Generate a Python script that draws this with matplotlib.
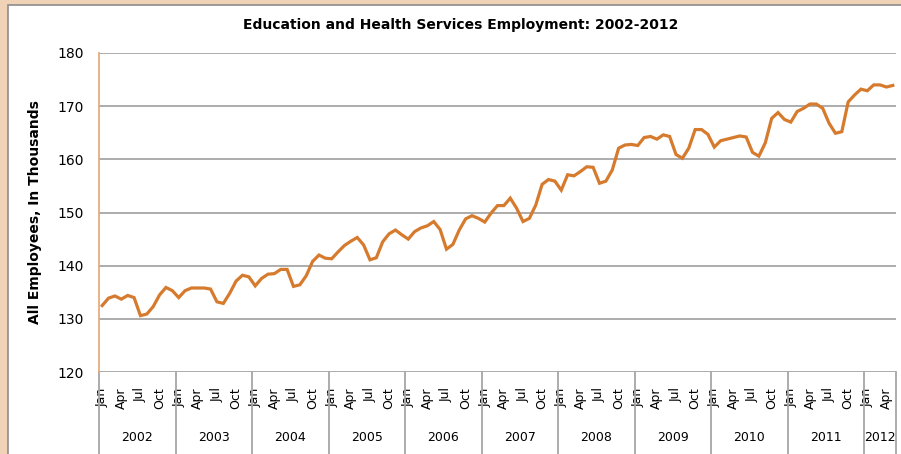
import numpy as np
import matplotlib
matplotlib.use("Agg")
import matplotlib.pyplot as plt
from matplotlib.patches import Rectangle
from matplotlib.transforms import blended_transform_factory

# Monthly employment (thousands), Jan 2002 - May 2012
emp_2002 = [132.5, 133.9, 134.3, 133.7, 134.4, 134.0, 130.6, 130.9, 132.3, 134.5, 135.9, 135.3]
emp_2003 = [134.0, 135.3, 135.8, 135.8, 135.8, 135.6, 133.2, 132.9, 134.8, 137.1, 138.2, 137.9]
emp_2004 = [136.2, 137.6, 138.4, 138.5, 139.3, 139.3, 136.1, 136.4, 138.1, 140.8, 142.0, 141.4]
emp_2005 = [141.3, 142.6, 143.8, 144.6, 145.3, 143.9, 141.1, 141.5, 144.5, 146.0, 146.7, 145.8]
emp_2006 = [145.0, 146.4, 147.1, 147.5, 148.3, 146.8, 143.1, 144.0, 146.7, 148.8, 149.4, 148.9]
emp_2007 = [148.2, 149.9, 151.3, 151.3, 152.7, 150.8, 148.3, 148.9, 151.4, 155.3, 156.2, 155.9]
emp_2008 = [154.2, 157.1, 156.9, 157.7, 158.6, 158.5, 155.5, 155.9, 158.0, 162.1, 162.7, 162.8]
emp_2009 = [162.6, 164.1, 164.3, 163.8, 164.6, 164.3, 160.9, 160.2, 162.1, 165.6, 165.6, 164.7]
emp_2010 = [162.3, 163.5, 163.8, 164.1, 164.4, 164.2, 161.3, 160.6, 163.1, 167.7, 168.8, 167.5]
emp_2011 = [167.0, 169.0, 169.6, 170.4, 170.4, 169.6, 166.8, 164.9, 165.2, 170.8, 172.1, 173.2]
emp_2012 = [172.9, 174.0, 174.0, 173.6, 173.9]

years = ["2002", "2003", "2004", "2005", "2006", "2007", "2008", "2009", "2010", "2011", "2012"]
month_names = ["Jan", "Feb", "Mar", "Apr", "May", "Jun", "Jul", "Aug", "Sep", "Oct", "Nov", "Dec"]
shown_months = ["Jan", "Apr", "Jul", "Oct"]

series = [emp_2002, emp_2003, emp_2004, emp_2005, emp_2006, emp_2007,
          emp_2008, emp_2009, emp_2010, emp_2011, emp_2012]
values = np.concatenate(series)
x = np.arange(len(values))

# month label for each point
months = [month_names[i % 12] for i in range(len(values))]

LINE = "#D67B2E"
GRID = "#A6A6A6"

fig = plt.figure(figsize=(9.01, 4.54), dpi=100)
fig.patch.set_facecolor("#F0D3B6")

# white chart panel with grey border (behind the axes)
panel = Rectangle((8 / 901, -0.01), 1.0, 1 - 5 / 454 + 0.01,
                  transform=fig.transFigure, facecolor="white",
                  edgecolor="#8C8C8C", linewidth=1.2, zorder=-10)
fig.patches.append(panel)

ax = fig.add_axes([99 / 901, 1 - 372 / 454, 797 / 901, 319 / 454])
ax.set_facecolor("white")

ax.plot(x, values, color=LINE, linewidth=2.3, solid_joinstyle="miter", zorder=3)

ax.set_xlim(-0.5, len(values) - 0.5)
ax.set_ylim(120, 180)
ax.set_yticks(np.arange(120, 181, 10))
ax.yaxis.grid(True, color=GRID, linewidth=1.3)
ax.set_axisbelow(True)
ax.tick_params(axis="y", length=0, pad=11, labelsize=10)

# only Jan/Apr/Jul/Oct labels
tick_pos = [i for i, m in enumerate(months) if m in shown_months]
tick_lab = [months[i] for i in tick_pos]
ax.set_xticks(tick_pos)
ax.set_xticklabels(tick_lab, rotation=90, fontsize=9)
ax.tick_params(axis="x", length=0, pad=11)

for s in ["top", "right", "bottom"]:
    ax.spines[s].set_visible(False)
ax.spines["left"].set_color("#E3A771")
ax.spines["left"].set_linewidth(1.2)

# year group separators and labels below the axis
trans = blended_transform_factory(ax.transData, ax.transAxes)
bounds = [12 * k - 0.5 for k in range(len(years))] + [len(values) - 0.5]
for b in bounds:
    ax.plot([b, b], [0, -0.3], color=GRID, linewidth=1.3, transform=trans, clip_on=False)
for k, yr in enumerate(years):
    mid = (bounds[k] + bounds[k + 1]) / 2
    ax.text(mid, -0.204, yr, transform=trans, ha="center", va="center", fontsize=9)

ax.set_ylabel("All Employees, In Thousands", fontsize=10, fontweight="bold")
ax.yaxis.set_label_coords(-0.0715, 0.5)

fig.text(461 / 901, 1 - 25 / 454, "Education and Health Services Employment: 2002-2012",
         ha="center", va="center", fontsize=10, fontweight="bold")

fig.savefig("out.png", dpi=100, facecolor=fig.get_facecolor())
